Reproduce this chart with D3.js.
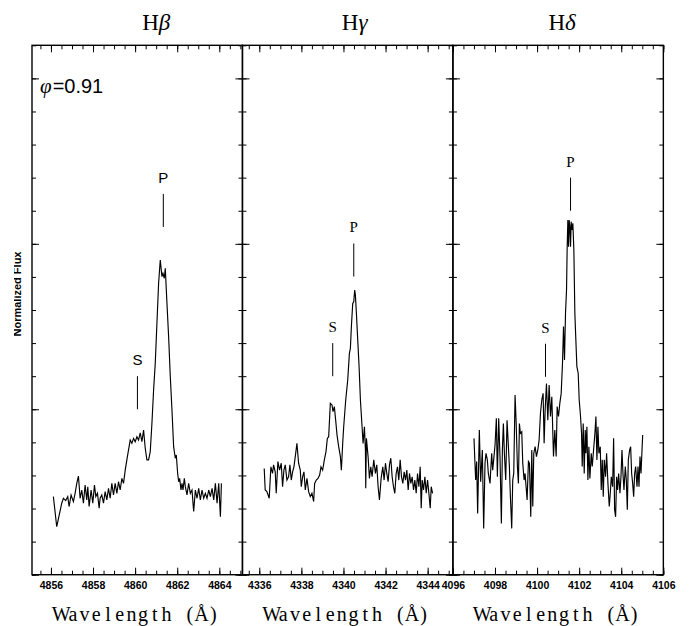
<!DOCTYPE html>
<html>
<head>
<meta charset="utf-8">
<script src="https://cdnjs.cloudflare.com/ajax/libs/d3/7.8.5/d3.min.js"></script>
<style>
  body { margin: 0; background: #fff; }
  svg { display: block; }
</style>
</head>
<body>
<svg id="chart" width="691" height="626"></svg>
<script>
// ---- data ----
const hbWave = [4856.116,4856.275,4856.513,4856.592,4856.703,4856.798,4856.862,4856.957,4857.068,4857.148,
  4857.227,4857.306,4857.386,4857.465,4857.544,4857.624,4857.703,4857.751,4857.814,4857.909,
  4857.989,4858.068,4858.132,4858.211,4858.290,4858.338,4858.417,4858.497,4858.576,4858.656,
  4858.735,4858.814,4858.894,4858.973,4859.052,4859.132,4859.211,4859.290,4859.370,4859.449,
  4859.529,4859.608,4859.687,4859.767,4859.846,4859.925,4860.005,4860.084,4860.163,4860.243,
  4860.322,4860.402,4860.481,4860.560,4860.640,4860.719,4860.798,4860.878,4860.957,4861.036,
  4861.116,4861.195,4861.275,4861.322,4861.386,4861.433,4861.513,4861.592,4861.671,4861.751,
  4861.830,4861.909,4861.957,4862.021,4862.068,4862.116,4862.179,4862.227,4862.275,4862.338,
  4862.386,4862.465,4862.544,4862.624,4862.703,4862.782,4862.862,4862.941,4863.021,4863.100,
  4863.179,4863.259,4863.338,4863.417,4863.497,4863.576,4863.656,4863.735,4863.814,4863.894,
  4863.973,4864.052,4864.100];
const hbFlux = [0.236,0.145,0.216,0.231,0.224,0.236,0.206,0.241,0.221,0.246,
  0.276,0.298,0.231,0.256,0.216,0.271,0.226,0.266,0.206,0.256,
  0.216,0.271,0.236,0.246,0.201,0.231,0.241,0.216,0.251,0.226,
  0.261,0.231,0.276,0.241,0.276,0.246,0.281,0.256,0.291,0.276,
  0.316,0.347,0.377,0.407,0.397,0.412,0.402,0.417,0.407,0.429,
  0.402,0.437,0.382,0.347,0.347,0.372,0.457,0.558,0.639,0.760,
  0.881,0.951,0.901,0.911,0.896,0.926,0.820,0.719,0.599,0.498,
  0.387,0.352,0.362,0.306,0.281,0.291,0.256,0.276,0.256,0.291,
  0.266,0.241,0.276,0.246,0.256,0.191,0.256,0.231,0.261,0.226,
  0.256,0.231,0.246,0.231,0.256,0.236,0.261,0.226,0.276,0.216,
  0.276,0.175,0.276];

const hgWave = [4336.234,4336.281,4336.361,4336.472,4336.551,4336.630,4336.678,4336.757,4336.805,4336.884,
  4336.964,4337.043,4337.107,4337.170,4337.234,4337.313,4337.392,4337.456,4337.519,4337.583,
  4337.646,4337.710,4337.789,4337.868,4337.948,4337.995,4338.059,4338.122,4338.186,4338.265,
  4338.345,4338.424,4338.503,4338.583,4338.630,4338.710,4338.789,4338.868,4338.932,4339.011,
  4339.091,4339.170,4339.234,4339.297,4339.376,4339.456,4339.503,4339.567,4339.630,4339.694,
  4339.773,4339.853,4339.900,4339.964,4340.011,4340.107,4340.202,4340.281,4340.329,4340.376,
  4340.440,4340.488,4340.535,4340.567,4340.615,4340.678,4340.742,4340.805,4340.884,4340.932,
  4340.996,4341.043,4341.059,4341.091,4341.170,4341.234,4341.297,4341.361,4341.440,4341.519,
  4341.583,4341.646,4341.710,4341.789,4341.869,4341.932,4341.996,4342.059,4342.122,4342.186,
  4342.249,4342.313,4342.376,4342.440,4342.503,4342.567,4342.630,4342.694,4342.757,4342.821,
  4342.884,4342.948,4343.011,4343.075,4343.138,4343.202,4343.265,4343.329,4343.392,4343.456,
  4343.519,4343.583,4343.646,4343.694,4343.742,4343.805,4343.869,4343.932,4343.996,4344.059,
  4344.122,4344.170,4344.234];
const hgFlux = [0.321,0.256,0.251,0.231,0.326,0.306,0.332,0.311,0.246,0.342,
  0.316,0.337,0.266,0.316,0.332,0.286,0.296,0.332,0.286,0.311,
  0.326,0.357,0.397,0.337,0.316,0.266,0.296,0.311,0.256,0.291,
  0.251,0.236,0.246,0.221,0.276,0.286,0.291,0.301,0.326,0.316,
  0.347,0.372,0.412,0.417,0.518,0.513,0.493,0.508,0.467,0.422,
  0.387,0.357,0.316,0.397,0.447,0.528,0.588,0.669,0.684,0.750,
  0.820,0.825,0.860,0.845,0.790,0.709,0.629,0.528,0.447,0.397,
  0.447,0.377,0.261,0.412,0.357,0.291,0.326,0.296,0.347,0.306,
  0.332,0.266,0.226,0.291,0.326,0.286,0.337,0.306,0.281,0.332,
  0.352,0.296,0.266,0.246,0.306,0.326,0.286,0.347,0.296,0.276,
  0.311,0.286,0.316,0.256,0.306,0.276,0.296,0.256,0.286,0.246,
  0.306,0.266,0.326,0.201,0.286,0.256,0.296,0.246,0.286,0.246,
  0.201,0.266,0.246];

const hdWave = [4097.002,4097.081,4097.129,4097.176,4097.256,4097.319,4097.399,4097.462,4097.526,4097.573,
  4097.637,4097.684,4097.764,4097.843,4097.891,4097.938,4098.002,4098.065,4098.113,4098.176,
  4098.240,4098.303,4098.351,4098.399,4098.446,4098.510,4098.573,4098.637,4098.684,4098.732,
  4098.795,4098.843,4098.891,4098.954,4099.002,4099.065,4099.113,4099.160,4099.208,4099.272,
  4099.319,4099.383,4099.430,4099.478,4099.526,4099.589,4099.637,4099.700,4099.748,4099.795,
  4099.843,4099.907,4099.970,4100.034,4100.097,4100.161,4100.224,4100.287,4100.335,4100.383,
  4100.446,4100.510,4100.573,4100.637,4100.700,4100.780,4100.843,4100.907,4100.954,4101.018,
  4101.081,4101.145,4101.208,4101.256,4101.303,4101.351,4101.399,4101.430,4101.462,4101.494,
  4101.526,4101.557,4101.589,4101.621,4101.653,4101.700,4101.748,4101.795,4101.843,4101.891,
  4101.954,4102.002,4102.065,4102.113,4102.145,4102.192,4102.240,4102.288,4102.319,4102.367,
  4102.415,4102.462,4102.510,4102.573,4102.621,4102.684,4102.748,4102.796,4102.843,4102.891,
  4102.938,4103.002,4103.049,4103.097,4103.145,4103.192,4103.256,4103.303,4103.367,4103.430,
  4103.478,4103.526,4103.589,4103.637,4103.684,4103.732,4103.780,4103.827,4103.875,4103.938,
  4103.986,4104.034,4104.081,4104.129,4104.192,4104.240,4104.288,4104.335,4104.399,4104.446,
  4104.494,4104.542,4104.589,4104.637,4104.684,4104.748,4104.796,4104.843,4104.891,4104.938,
  4104.986,4105.018];
const hdFlux = [0.412,0.286,0.342,0.185,0.437,0.281,0.377,0.140,0.337,0.367,
  0.347,0.306,0.276,0.367,0.316,0.347,0.392,0.473,0.296,0.473,
  0.352,0.155,0.377,0.457,0.367,0.286,0.467,0.387,0.327,0.236,
  0.140,0.286,0.306,0.543,0.467,0.327,0.276,0.457,0.427,0.432,
  0.337,0.286,0.306,0.266,0.226,0.342,0.337,0.175,0.377,0.206,
  0.367,0.387,0.357,0.377,0.407,0.488,0.528,0.548,0.397,0.498,
  0.578,0.467,0.573,0.478,0.538,0.357,0.437,0.357,0.508,0.478,
  0.518,0.548,0.639,0.750,0.649,0.790,0.860,0.991,1.072,0.991,
  1.072,1.052,0.991,1.067,1.042,1.062,0.981,0.790,0.709,0.629,
  0.609,0.528,0.478,0.427,0.327,0.457,0.306,0.437,0.367,0.447,
  0.286,0.387,0.291,0.367,0.327,0.377,0.427,0.478,0.347,0.447,
  0.367,0.387,0.256,0.347,0.236,0.347,0.296,0.367,0.276,0.206,
  0.246,0.296,0.266,0.412,0.196,0.175,0.296,0.256,0.306,0.246,
  0.296,0.377,0.306,0.256,0.327,0.286,0.196,0.347,0.377,0.387,
  0.306,0.276,0.236,0.306,0.327,0.266,0.327,0.266,0.357,0.306,
  0.377,0.422];

const lineNames = ['β', 'γ', 'δ'];
const waveDomains = [[4855.1, 4865.1], [4335.2, 4345.2], [4096, 4106]];
const fluxDomain = [0, 1.6];
// P (primary) and S (secondary) component markers: wavelength, flux at lower end of tick
const markerLabels = ['P', 'S'];
const markerWave = [[4861.34, 4860.11], [4340.49, 4339.49], [4101.59, 4100.40]];
const markerFlux = [[1.051, 0.500], [0.901, 0.600], [1.100, 0.598]];
const phaseLabel = '=0.91';
const xLabel = 'Wavelength (Å)';
const yLabel = 'Normalized Flux';

const spectra = [
    hbWave.map((w, i) => ({ w, f: hbFlux[i] })),
    hgWave.map((w, i) => ({ w, f: hgFlux[i] })),
    hdWave.map((w, i) => ({ w, f: hdFlux[i] }))
];

// ---- layout ----
const svg = d3.select('#chart');
const plotLeft = 32;
const plotTop = 45.3;
const plotBottom = 574.7;
const panelWidth = 210.45;
const titleShift = [19, 7, 4];
const markerFonts = ['"Liberation Sans", Arial, sans-serif', '"Liberation Serif", serif', '"Liberation Serif", serif'];

const yScale = d3.scaleLinear().domain(fluxDomain).range([plotBottom, plotTop]);

const majorLen = 7;
const minorLen = 4;
const monoCell = 11.7;   // typewriter-style character pitch of the axis label

const styleAxis = (sel) => {
    sel.select('.domain').remove();
    sel.selectAll('line').attr('stroke', '#000').attr('stroke-width', 1);
};

spectra.forEach((data, i) => {
    const x0 = plotLeft + i * panelWidth;
    const x1 = x0 + panelWidth;
    const xc = (x0 + x1) / 2;
    const xScale = d3.scaleLinear().domain(waveDomains[i]).range([x0, x1]);
    const g = svg.append('g');

    // ticks on all four sides, pointing inward
    [[majorLen, 5], [minorLen, 20]].forEach(([len, n]) => {
        const bottomAxis = d3.axisBottom(xScale).ticks(n).tickSize(-len).tickPadding(7)
            .tickFormat(len === majorLen ? d3.format('d') : '');
        g.append('g').attr('transform', `translate(0,${plotBottom})`).call(bottomAxis).call(styleAxis)
            .selectAll('text')
            .attr('font-family', '"Liberation Sans", Arial, sans-serif')
            .attr('font-weight', 'bold')
            .attr('font-size', 10.5)
            .attr('fill', '#000');
        g.append('g').attr('transform', `translate(0,${plotTop})`)
            .call(d3.axisTop(xScale).ticks(n).tickSize(-len).tickFormat(''))
            .call(styleAxis);
    });
    [[majorLen, 4], [minorLen, 16]].forEach(([len, n]) => {
        g.append('g').attr('transform', `translate(${x0},0)`)
            .call(d3.axisLeft(yScale).ticks(n).tickSize(-len).tickFormat(''))
            .call(styleAxis);
        g.append('g').attr('transform', `translate(${x1},0)`)
            .call(d3.axisRight(yScale).ticks(n).tickSize(-len).tickFormat(''))
            .call(styleAxis);
    });

    g.append('rect')
        .attr('x', x0).attr('y', plotTop)
        .attr('width', panelWidth).attr('height', plotBottom - plotTop)
        .attr('fill', 'none').attr('stroke', '#000').attr('stroke-width', 1.4);

    const line = d3.line().x(d => xScale(d.w)).y(d => yScale(d.f));
    g.append('path')
        .datum(data)
        .attr('d', line)
        .attr('fill', 'none')
        .attr('stroke', '#000')
        .attr('stroke-width', 1.15);

    // P / S markers
    markerWave[i].forEach((w, j) => {
        const mx = xScale(w);
        const yb = yScale(markerFlux[i][j]);
        const yt = yScale(markerFlux[i][j] + 0.1);
        g.append('line')
            .attr('x1', mx).attr('x2', mx)
            .attr('y1', yt).attr('y2', yb)
            .attr('stroke', '#000').attr('stroke-width', 1);
        g.append('text')
            .attr('x', mx).attr('y', yt - 11)
            .attr('text-anchor', 'middle')
            .attr('font-family', markerFonts[i])
            .attr('font-size', 15)
            .text(markerLabels[j]);
    });

    // panel title
    const title = g.append('text')
        .attr('x', xc + titleShift[i])
        .attr('y', 30)
        .attr('text-anchor', 'middle')
        .attr('font-family', '"Liberation Serif", "Times New Roman", serif')
        .attr('font-size', 23);
    title.append('tspan').text('H');
    title.append('tspan').attr('font-style', 'italic').text(lineNames[i]);

    // x axis label, each character centred in a fixed-pitch cell
    const chars = Array.from(xLabel);
    const start = xc - chars.length * monoCell / 2;
    g.append('text')
        .attr('x', chars.map((c, k) => (start + (k + 0.5) * monoCell).toFixed(1)).join(' '))
        .attr('y', 621)
        .attr('text-anchor', 'middle')
        .attr('font-family', '"Liberation Serif", "Times New Roman", serif')
        .attr('font-size', 20)
        .text(xLabel);
});

// phase label
const phase = svg.append('text')
    .attr('x', 40).attr('y', 93);
phase.append('tspan')
    .attr('font-family', '"Liberation Serif", serif')
    .attr('font-style', 'italic')
    .attr('font-size', 21)
    .text('φ');
phase.append('tspan')
    .attr('font-family', '"Liberation Sans", Arial, sans-serif')
    .attr('font-size', 20)
    .attr('dx', 1)
    .text(phaseLabel);

// y axis label (partly clipped at the page edge like the original)
svg.append('clipPath').attr('id', 'ylab-clip')
    .append('rect').attr('x', 14).attr('y', 200).attr('width', 17).attr('height', 200);
svg.append('g')
    .attr('clip-path', 'url(#ylab-clip)')
    .append('text')
    .attr('transform', 'translate(20.5,294) rotate(-90)')
    .attr('text-anchor', 'middle')
    .attr('font-family', '"Liberation Sans", Arial, sans-serif')
    .attr('font-weight', 'bold')
    .attr('font-size', 11)
    .text(yLabel);
</script>
</body>
</html>
